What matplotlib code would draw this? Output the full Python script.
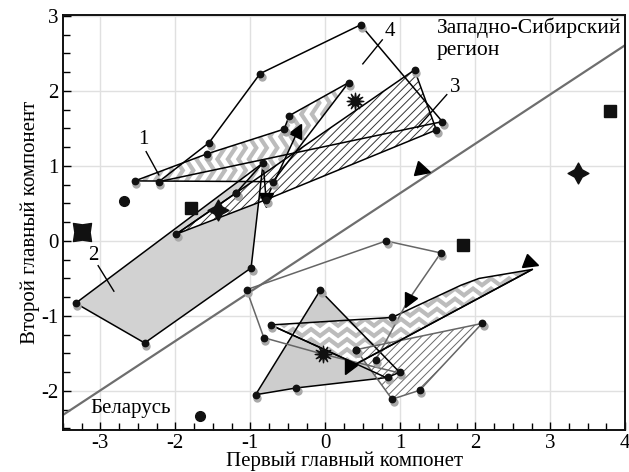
import numpy as np
import matplotlib
matplotlib.use("Agg")
import matplotlib.pyplot as plt
from matplotlib.patches import Polygon
from matplotlib.markers import MarkerStyle
from matplotlib.path import Path
from matplotlib.transforms import Affine2D
from matplotlib.ticker import MultipleLocator

plt.rcParams['font.family'] = ['Liberation Serif', 'DejaVu Serif']
plt.rcParams['axes.unicode_minus'] = False

# ---------------- data ----------------
# Upper group (Западно-Сибирский регион)
poly1_x = [-2.54, -1.58, -0.55, -0.48, 0.31, -0.70]
poly1_y = [0.80, 1.16, 1.49, 1.67, 2.11, 0.79]
poly3_x = [-1.99, -1.19, 1.19, 1.48, -0.79]
poly3_y = [0.09, 0.64, 2.28, 1.48, 0.55]
poly4_x = [-2.22, -1.55, -0.87, 0.47, 1.56]
poly4_y = [0.79, 1.31, 2.23, 2.88, 1.59]
poly2_x = [-3.33, -2.41, -0.99, -0.83]
poly2_y = [-0.83, -1.36, -0.36, 1.04]
fan_x = [-1.99, -1.19, -0.83]
fan_y = [0.09, 0.64, 1.04]

# Lower group (Беларусь)
tri_x = [-0.07, -0.93, -0.39, 0.83, 0.99]
tri_y = [-0.66, -2.05, -1.96, -1.82, -1.75]
chev2_x = [-0.73, 0.89, 1.81, 2.05, 2.76, 0.41]
chev2_y = [-1.12, -1.02, -0.59, -0.50, -0.38, -1.64]
hatch2_x = [0.41, 2.09, 1.26, 0.89]
hatch2_y = [-1.45, -1.10, -1.99, -2.11]
grey1_x = [-0.82, -1.05, 0.81, 1.54]
grey1_y = [-1.29, -0.65, 0.00, -0.16]
grey2_x = [-0.82, -0.03, 0.99]
grey2_y = [-1.29, -1.51, -1.76]
diag2_x = [-0.73, 0.83]
diag2_y = [-1.12, -1.83]

# arrows: (x0, y0, x1, y1, colour, head angle in degrees)
arrows = [(-0.83, 1.05, -0.79, 0.55, 'k', -92),
          (-0.79, 0.55, -0.36, 1.48, 'k', 60),
          (1.54, -0.16, 1.10, -0.80, '#666666', -115),
          (2.76, -0.38, 0.30, -1.70, 'k', -115)]
tail_x = [1.10, 0.67]
tail_y = [-0.80, -1.59]

# free markers
sq_x = [-1.79, 3.80, 1.83]
sq_y = [0.44, 1.73, -0.05]
circ_x = [-2.68, -1.67]
circ_y = [0.53, -2.33]
csq_x = [-3.24]
csq_y = [0.12]
dstar_x = [-1.43, 3.37]
dstar_y = [0.41, 0.91]
burst_x = [0.39, -0.03]
burst_y = [1.86, -1.51]
ftri_x = [1.30, 2.74]
ftri_y = [0.95, -0.30]
ftri_ang = [-15, -20]
extra_dots_x = [0.41, 0.67, -1.19]
extra_dots_y = [-1.45, -1.59, 0.64]

# separating line
sep_x = [-3.5, 4.0]
sep_y = [-2.32, 2.61]

xticks = [-3, -2, -1, 0, 1, 2, 3, 4]
yticks = [-2, -1, 0, 1, 2, 3]

# ---------------- figure ----------------
fig = plt.figure(figsize=(6.29, 4.72), dpi=100)
ax = fig.add_axes([0.100, 0.089, 0.894, 0.879])
ax.set_xlim(-3.5, 4.0)
ax.set_ylim(-2.52, 3.01)

ax.set_xticks(xticks)
ax.set_yticks(yticks)
ax.xaxis.set_minor_locator(MultipleLocator(0.25))
ax.yaxis.set_minor_locator(MultipleLocator(0.25))
ax.tick_params(which='both', direction='in', top=False, right=False,
               labelsize=15, width=1.0, colors='k')
ax.tick_params(which='major', length=6, pad=3)
ax.tick_params(which='minor', length=5)
ax.grid(True, which='major', color='#e0e0e0', lw=1.0, zorder=0)
ax.set_axisbelow(True)
for s in ax.spines.values():
    s.set_linewidth(1.4)
    s.set_color('#111111')

ax.set_xlabel('Первый главный компонет', fontsize=15, labelpad=-1)
ax.set_ylabel('Второй главный компонент', fontsize=15, labelpad=1)


def chevron(ax, xs, ys, orient, z, spacing, period, amp):
    poly = Polygon(np.column_stack([xs, ys]), closed=True, facecolor='white',
                   edgecolor='none', zorder=z)
    ax.add_patch(poly)
    x0, x1 = min(xs) - 0.3, max(xs) + 0.3
    y0, y1 = min(ys) - 0.3, max(ys) + 0.3
    if orient == 'h':
        px = np.arange(x0, x1, period / 2)
        off = amp * (np.arange(len(px)) % 2)
        for yy in np.arange(y0, y1, spacing):
            ln, = ax.plot(px, yy + off, color='#bcbcbc', lw=3.0, zorder=z + 0.01,
                          solid_joinstyle='miter')
            ln.set_clip_path(poly)
    else:
        py = np.arange(y0, y1, period / 2)
        off = amp * (np.arange(len(py)) % 2)
        for xx in np.arange(x0, x1, spacing):
            ln, = ax.plot(xx + off, py, color='#bcbcbc', lw=3.0, zorder=z + 0.01,
                          solid_joinstyle='miter')
            ln.set_clip_path(poly)


def hatched(ax, xs, ys, hcol, z):
    ax.add_patch(Polygon(np.column_stack([xs, ys]), closed=True, facecolor='white',
                         edgecolor=hcol, lw=0, hatch='////', zorder=z))


def outline(ax, xs, ys, col='k', lw=1.1, z=4, closed=True):
    xx = list(xs) + ([xs[0]] if closed else [])
    yy = list(ys) + ([ys[0]] if closed else [])
    ax.plot(xx, yy, color=col, lw=lw, zorder=z)


plt.rcParams['hatch.linewidth'] = 0.7

# separating line
ax.plot(sep_x, sep_y, color='#6e6e6e', lw=1.6, zorder=1)

# Upper group fills
ax.add_patch(Polygon(np.column_stack([poly2_x, poly2_y]), closed=True,
                     facecolor='#d2d2d2', edgecolor='none', zorder=1.5))
chevron(ax, poly1_x, poly1_y, 'v', 2.0, 0.14, 0.30, 0.10)
hatched(ax, poly3_x, poly3_y, '#333333', 2.5)

# Lower group fills
ax.add_patch(Polygon(np.column_stack([tri_x, tri_y]), closed=True,
                     facecolor='#cdcdcd', edgecolor='none', zorder=1.5))
chevron(ax, chev2_x, chev2_y, 'h', 2.0, 0.135, 0.24, 0.09)
hatched(ax, hatch2_x, hatch2_y, '#6a6a6a', 2.5)

# outlines
outline(ax, poly2_x, poly2_y)
outline(ax, poly1_x, poly1_y)
outline(ax, poly3_x, poly3_y)
outline(ax, poly4_x, poly4_y)
outline(ax, fan_x, fan_y, closed=False)
outline(ax, tri_x, tri_y)
outline(ax, chev2_x, chev2_y)
outline(ax, hatch2_x, hatch2_y, col='#666666')
outline(ax, grey1_x, grey1_y, col='#666666', closed=False)
outline(ax, grey2_x, grey2_y, col='#666666', closed=False)
outline(ax, diag2_x, diag2_y, closed=False)
outline(ax, tail_x, tail_y, col='#666666', closed=False)

# arrows with triangular heads
for x0, y0, x1, y1, c, hang in arrows:
    ax.plot([x0, x1], [y0, y1], color=c, lw=1.1, zorder=4)
    m = MarkerStyle('^', transform=Affine2D().rotate_deg(hang - 90))
    ax.plot([x1], [y1], marker=m, ms=10, color='k', ls='none', zorder=5)
for x, y, a in zip(ftri_x, ftri_y, ftri_ang):
    m = MarkerStyle('^', transform=Affine2D().rotate_deg(a - 90))
    ax.plot([x], [y], marker=m, ms=10, color='k', ls='none', zorder=5)

# vertex dots
dots_x = poly1_x + poly3_x + poly4_x + poly2_x + tri_x + chev2_x[:2] + hatch2_x + grey1_x + extra_dots_x
dots_y = poly1_y + poly3_y + poly4_y + poly2_y + tri_y + chev2_y[:2] + hatch2_y + grey1_y + extra_dots_y
ax.plot(np.array(dots_x) + 0.02, np.array(dots_y) - 0.04, 'o', ms=5, color='#a8a8a8',
        ls='none', zorder=5)
ax.plot(dots_x, dots_y, 'o', ms=4.6, color='#111111', ls='none', zorder=5.1)

# big markers
ax.plot(sq_x, sq_y, 's', ms=8, color='#111111', ls='none', zorder=5)
ax.plot(circ_x, circ_y, 'o', ms=7, color='#111111', ls='none', zorder=5)


def star(n, inner, rot=0.0):
    pts = []
    for k in range(n):
        a = 2 * np.pi / n * k + rot
        pts.append((np.cos(a), np.sin(a)))
        b = a + np.pi / n
        pts.append((inner * np.cos(b), inner * np.sin(b)))
    pts.append(pts[0])
    return Path(pts, closed=True)


dstar = MarkerStyle(star(4, 0.5))
csq = MarkerStyle(star(4, 0.6, np.pi / 4))
burst = MarkerStyle(star(12, 0.35))
ax.plot(dstar_x, dstar_y, marker=dstar, ms=15, color='#111111', ls='none', zorder=5)
ax.plot(csq_x, csq_y, marker=csq, ms=13, color='#111111', ls='none', zorder=5)
ax.plot(burst_x, burst_y, marker=burst, ms=12, color='#111111', ls='none', zorder=5)

# annotations
tk = dict(fontsize=15, zorder=6)
ax.text(1.49, 2.98, 'Западно-Сибирский\nрегион', ha='left', va='top', linespacing=1.2,
        fontsize=15.5, zorder=6)
ax.text(-3.14, -2.24, 'Беларусь', ha='left', va='center', **tk)
labels = [('4', 0.86, 2.79, 0.76, 2.68, 0.50, 2.36),
          ('3', 1.73, 2.05, 1.62, 1.95, 1.23, 1.51),
          ('1', -2.43, 1.35, -2.39, 1.19, -2.22, 0.88),
          ('2', -3.10, -0.19, -3.03, -0.33, -2.82, -0.67)]
for t, tx, ty, lx0, ly0, lx1, ly1 in labels:
    ax.text(tx, ty, t, ha='center', va='center', **tk)
    ax.plot([lx0, lx1], [ly0, ly1], color='k', lw=1.0, zorder=6)

fig.savefig('out.png', dpi=100)
